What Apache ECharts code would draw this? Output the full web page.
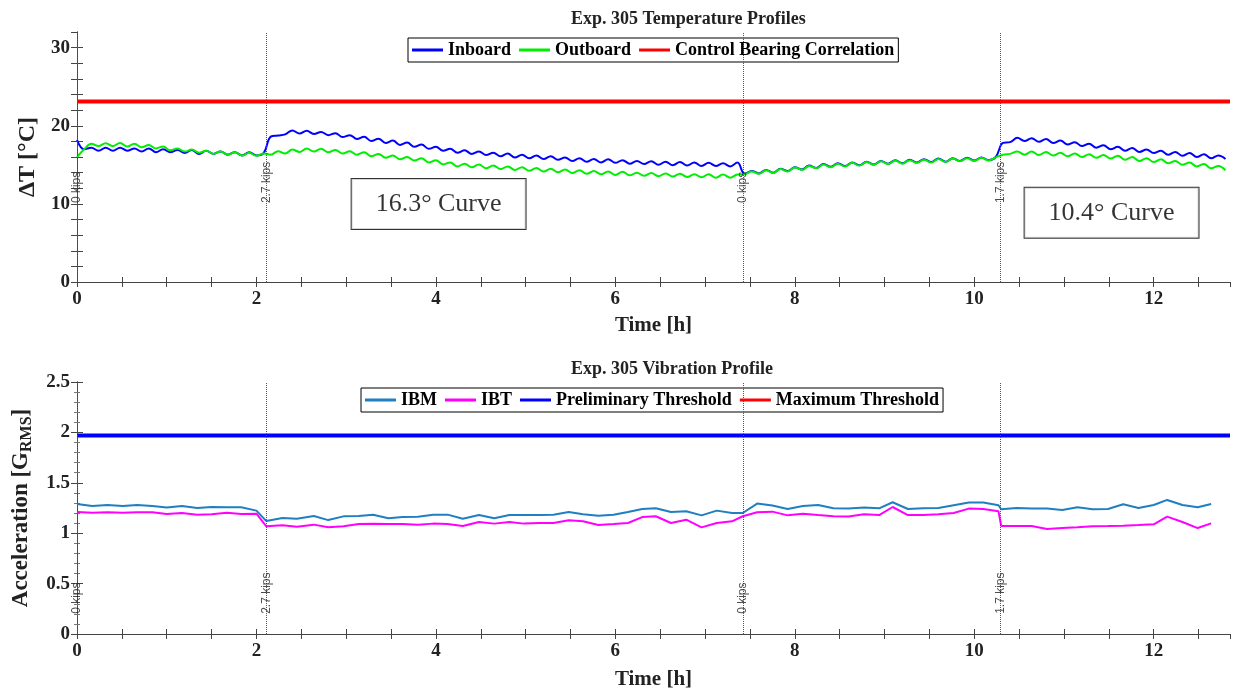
<!DOCTYPE html>
<html>
<head>
<meta charset="utf-8">
<script src="https://cdn.jsdelivr.net/npm/echarts@6/dist/echarts.min.js"></script>
<style>
html,body{margin:0;padding:0;background:#fff;}
#chart{width:1235px;height:694px;}
</style>
</head>
<body>
<div id="chart"></div>
<script>
// ---------- DATA ----------
const tempTime = [0,0.08,0.16,0.24,0.32,0.4,0.48,0.56,0.64,0.72,0.8,0.88,0.96,1.04,1.12,1.2,1.28,1.36,1.44,1.52,1.6,1.68,1.76,1.84,1.92,2.0,2.08,
2.16,2.24,2.32,2.4,2.48,2.56,2.64,2.72,2.8,2.88,2.96,3.04,3.12,3.2,3.28,3.36,3.44,3.52,3.6,3.68,3.76,3.84,3.92,4.0,4.08,4.16,4.24,4.32,4.4,4.48,4.56,4.64,4.72,4.8,4.88,4.96,5.04,5.12,
5.2,5.28,5.36,5.44,5.52,5.6,5.68,5.76,5.84,5.92,6.0,6.08,6.16,6.24,6.32,6.4,6.48,6.56,6.64,6.72,6.8,6.88,6.96,7.04,7.12,7.2,7.28,7.36,
7.44,7.52,7.6,7.68,7.76,7.84,7.92,8.0,8.08,8.16,8.24,8.32,8.4,8.48,8.56,8.64,8.72,8.8,8.88,8.96,9.04,9.12,9.2,9.28,9.36,9.44,9.52,9.6,9.68,9.76,9.84,9.92,10.0,10.08,10.16,10.24,
10.32,10.4,10.48,10.56,10.64,10.72,10.8,10.88,10.96,11.04,11.12,11.2,11.28,11.36,11.44,11.52,11.6,11.68,11.76,11.84,11.92,12.0,12.08,12.16,12.24,12.32,12.4,12.48,12.56,12.64,12.72,12.8];

const inboard = [18.2,17.0,17.2,16.8,17.2,16.8,17.2,16.8,17.1,16.7,17.1,16.6,17.0,16.6,16.9,16.5,16.9,16.4,16.8,16.4,16.7,16.3,16.6,16.2,16.6,16.2,16.5,
18.6,18.75,18.9,19.4,19.0,19.35,18.95,19.2,18.8,19.05,18.55,18.8,18.3,18.6,18.05,18.35,17.8,18.1,17.55,17.85,17.3,17.6,17.05,17.3,16.8,17.05,16.55,16.85,16.4,16.7,16.25,16.55,16.1,16.45,15.95,16.3,15.85,16.2,
15.75,16.1,15.65,15.95,15.5,15.85,15.4,15.75,15.3,15.7,15.25,15.6,15.15,15.5,15.1,15.45,15.0,15.4,14.95,15.35,14.9,15.3,14.85,15.25,14.85,15.2,14.8,15.3,
13.85,14.2,13.9,14.35,14.0,14.5,14.2,14.7,14.4,14.9,14.6,15.1,14.75,15.2,14.85,15.3,14.95,15.4,15.05,15.5,15.15,15.6,15.2,15.65,15.3,15.7,15.35,15.8,15.4,15.85,15.5,15.9,15.55,15.95,15.6,16.0,
17.8,17.9,18.45,18.05,18.4,17.95,18.3,17.8,18.1,17.6,17.9,17.4,17.7,17.2,17.5,17.0,17.3,16.8,17.15,16.65,16.95,16.5,16.8,16.3,16.65,16.15,16.5,16.0,16.35,15.85,16.2,15.75];

const outboard = [16.0,17.0,17.7,17.4,17.75,17.4,17.8,17.35,17.7,17.25,17.55,17.1,17.35,16.85,17.1,16.7,16.95,16.55,16.8,16.4,16.7,16.3,16.6,16.2,16.55,16.15,16.45,
16.3,16.75,16.45,16.95,16.65,17.1,16.7,17.05,16.6,16.9,16.45,16.75,16.3,16.6,16.1,16.4,15.9,16.2,15.7,16.0,15.55,15.85,15.3,15.6,15.05,15.3,14.8,15.15,14.7,15.05,14.55,14.9,14.45,14.8,14.35,14.7,14.25,14.6,
14.15,14.5,14.05,14.4,13.95,14.3,13.85,14.2,13.8,14.15,13.7,14.1,13.65,14.0,13.6,13.95,13.55,13.9,13.5,13.85,13.45,13.8,13.4,13.8,13.35,13.75,13.35,13.75,
13.8,14.15,13.85,14.3,13.95,14.45,14.15,14.65,14.35,14.85,14.55,15.05,14.7,15.15,14.8,15.25,14.9,15.35,15.0,15.45,15.1,15.55,15.15,15.6,15.25,15.65,15.3,15.75,15.35,15.8,15.45,15.85,15.5,15.9,15.55,15.95,
16.3,16.4,16.7,16.3,16.7,16.25,16.65,16.2,16.55,16.1,16.45,16.0,16.35,15.9,16.25,15.8,16.15,15.65,16.0,15.5,15.85,15.35,15.7,15.2,15.5,15.0,15.3,14.8,15.1,14.55,14.85,14.3];

const controlBearing = [23.1, 23.1];
const thresholdTime = [0, 12.85];

const vibTime = [0,0.17,0.34,0.51,0.67,0.84,1.0,1.17,1.34,1.5,1.67,1.83,2.0,
2.11,2.29,2.45,2.64,2.8,2.97,3.14,3.3,3.47,3.63,3.8,3.97,4.13,4.3,4.48,4.65,4.82,4.98,5.15,5.31,5.48,5.64,5.81,5.98,6.14,6.3,6.45,6.62,6.79,6.96,7.13,7.3,
7.42,7.58,7.75,7.92,8.09,8.26,8.43,8.6,8.77,8.94,9.09,9.26,9.43,9.6,9.77,9.94,10.1,10.27,
10.3,10.47,10.64,10.81,10.98,11.15,11.32,11.49,11.66,11.83,12.0,12.15,12.32,12.49,12.64];

const ibm = [1.29,1.27,1.28,1.27,1.28,1.27,1.255,1.27,1.25,1.26,1.257,1.257,1.224,
1.12,1.15,1.144,1.17,1.13,1.167,1.17,1.184,1.148,1.16,1.164,1.184,1.184,1.144,1.18,1.148,1.18,1.18,1.18,1.184,1.21,1.187,1.174,1.184,1.21,1.24,1.247,1.21,1.217,1.177,1.224,1.2,
1.2,1.294,1.274,1.24,1.27,1.28,1.247,1.244,1.254,1.247,1.307,1.24,1.247,1.25,1.277,1.304,1.304,1.277,
1.237,1.25,1.244,1.244,1.23,1.257,1.237,1.24,1.287,1.25,1.28,1.33,1.28,1.257,1.29];

const ibt = [1.21,1.204,1.207,1.204,1.207,1.207,1.19,1.2,1.184,1.187,1.204,1.19,1.194,
1.068,1.078,1.065,1.085,1.058,1.068,1.091,1.094,1.091,1.091,1.085,1.095,1.091,1.071,1.111,1.095,1.111,1.095,1.101,1.101,1.128,1.118,1.081,1.091,1.101,1.16,1.168,1.101,1.134,1.058,1.101,1.118,
1.168,1.207,1.214,1.177,1.194,1.18,1.168,1.165,1.187,1.18,1.26,1.18,1.18,1.187,1.2,1.244,1.24,1.217,
1.071,1.071,1.071,1.041,1.051,1.058,1.068,1.071,1.075,1.081,1.088,1.164,1.111,1.051,1.098];

const preliminaryThreshold = [1.97, 1.97];
const maximumThreshold = [];

const loadTimes = [0, 2.11, 7.415, 10.29];
const loadLabels = ['0 kips', '2.7 kips', '0 kips', '1.7 kips'];

const curveNotes = ['16.3° Curve', '10.4° Curve'];
const curveNoteX = [4.03, 11.53];
const curveNoteY = [10.0, 8.86];

const xTickLabels = [0, 2, 4, 6, 8, 10, 12];

// ---------- HELPERS ----------
const SERIF = 'Liberation Serif';
const zip = (xs, ys) => xs.map((x, i) => [x, ys[i]]);
const AX = '#444';
const XMAX = 12.85;

function xAxisMain(gridIndex, nameGap) {
  return {
    type: 'value', gridIndex, position: 'bottom', min: 0, max: XMAX, interval: 0.5,
    axisLine: { show: true, lineStyle: { color: AX, width: 1 } },
    axisTick: { show: true, inside: true, length: 5, lineStyle: { color: AX } },
    splitLine: { show: false },
    axisLabel: {
      showMaxLabel: false, margin: 8,
      formatter: v => xTickLabels.some(t => Math.abs(t - v) < 1e-6) ? String(v) : '',
      fontFamily: SERIF, fontWeight: 'bold', fontSize: 19, color: '#222'
    },
    name: 'Time [h]', nameLocation: 'middle', nameGap,
    nameTextStyle: { fontFamily: SERIF, fontWeight: 'bold', fontSize: 21, color: '#222' }
  };
}
function xAxisTop(gridIndex) {
  return {
    type: 'value', gridIndex, position: 'top', min: 0, max: XMAX, interval: 0.5,
    axisLine: { show: true, lineStyle: { color: AX, width: 1 } },
    axisTick: { show: true, inside: true, length: 5, lineStyle: { color: AX } },
    splitLine: { show: false }, axisLabel: { show: false }
  };
}
function yAxisRight(gridIndex, max, interval, minor) {
  return {
    type: 'value', gridIndex, position: 'right', min: 0, max, interval,
    axisLine: { show: true, lineStyle: { color: AX, width: 1 } },
    axisTick: { show: true, inside: true, length: 6, lineStyle: { color: AX } },
    minorTick: minor ? { show: true, splitNumber: 5, length: 3, lineStyle: { color: '#777' } } : { show: false },
    splitLine: { show: false }, axisLabel: { show: false }
  };
}

const legendCommon = {
  orient: 'horizontal', selectedMode: false,
  backgroundColor: '#fff', borderColor: '#000', borderWidth: 1,
  padding: [3, 4], itemGap: 8, itemWidth: 31, itemHeight: 3, icon: 'rect',
  textStyle: { fontFamily: SERIF, fontWeight: 'bold', fontSize: 18, color: '#000' }
};

const kipsLabelStyle = {
  show: true, formatter: '{b}', rotate: 90, position: 'inside',
  align: 'left', verticalAlign: 'middle',
  fontFamily: 'Liberation Sans', fontSize: 12, color: '#222'
};

const option = {
  animation: false,
  backgroundColor: '#fff',
  title: [
    { text: 'Exp. 305 Temperature Profiles', left: 566, top: 5,
      textStyle: { fontFamily: SERIF, fontWeight: 'bold', fontSize: 18, color: '#222' } },
    { text: 'Exp. 305 Vibration Profile', left: 566, top: 355,
      textStyle: { fontFamily: SERIF, fontWeight: 'bold', fontSize: 18, color: '#222' } }
  ],
  legend: [
    Object.assign({}, legendCommon, { left: 408, top: 38, data: ['Inboard', 'Outboard', 'Control Bearing Correlation'] }),
    Object.assign({}, legendCommon, { left: 361, top: 388, data: ['IBM', 'IBT', 'Preliminary Threshold', 'Maximum Threshold'] })
  ],
  grid: [
    { left: 77, right: 5, top: 32, height: 250, containLabel: false },
    { left: 77, right: 5, top: 382, height: 252, containLabel: false }
  ],
  xAxis: [ xAxisMain(0, 33), xAxisTop(0), xAxisMain(1, 35), xAxisTop(1) ],
  yAxis: [
    {
      type: 'value', gridIndex: 0, min: 0, max: 32, interval: 2,
      axisLine: { show: true, lineStyle: { color: AX, width: 1 } },
      axisTick: { show: true, inside: true, length: 6, lineStyle: { color: AX } },
      splitLine: { show: false },
      axisLabel: { showMaxLabel: false, margin: 7, formatter: v => (v % 10 === 0 ? String(v) : ''),
        fontFamily: SERIF, fontWeight: 'bold', fontSize: 19, color: '#222' },
      name: 'ΔT [°C]', nameLocation: 'middle', nameGap: 34,
      nameTextStyle: { fontFamily: SERIF, fontWeight: 'bold', fontSize: 24, color: '#222' }
    },
    yAxisRight(0, 32, 2, false),
    {
      type: 'value', gridIndex: 1, min: 0, max: 2.5, interval: 0.5,
      axisLine: { show: true, lineStyle: { color: AX, width: 1 } },
      axisTick: { show: true, inside: true, length: 6, lineStyle: { color: AX } },
      minorTick: { show: true, splitNumber: 5, length: 3, lineStyle: { color: '#777' } },
      splitLine: { show: false },
      axisLabel: { margin: 7, fontFamily: SERIF, fontWeight: 'bold', fontSize: 19, color: '#222' },
      name: '{a|Acceleration [G}{s|RMS}{a|]}', nameLocation: 'middle', nameGap: 36,
      nameTextStyle: {
        rich: {
          a: { fontFamily: SERIF, fontWeight: 'bold', fontSize: 23, color: '#222', lineHeight: 28, verticalAlign: 'middle' },
          s: { fontFamily: SERIF, fontWeight: 'bold', fontSize: 16, color: '#222', lineHeight: 16, verticalAlign: 'bottom' }
        }
      }
    },
    yAxisRight(1, 2.5, 0.5, true)
  ],
  series: [
    {
      name: 'Inboard', type: 'line', xAxisIndex: 0, yAxisIndex: 0,
      data: zip(tempTime, inboard), showSymbol: false, smooth: 0.4,
      color: '#0000ff', lineStyle: { color: '#0000ff', width: 2 },
      markLine: {
        silent: true, symbol: ['none', 'none'], label: { show: false },
        lineStyle: { type: 'dotted', color: '#555', width: 1 },
        data: loadTimes.map(t => ({ xAxis: t }))
      }
    },
    {
      name: 'Outboard', type: 'line', xAxisIndex: 0, yAxisIndex: 0,
      data: zip(tempTime, outboard), showSymbol: false, smooth: 0.4,
      color: '#00ee00', lineStyle: { color: '#00ee00', width: 2 }
    },
    {
      name: 'Control Bearing Correlation', type: 'line', xAxisIndex: 0, yAxisIndex: 0,
      data: zip(thresholdTime, controlBearing), showSymbol: false,
      color: '#ff0000', lineStyle: { color: '#ff0000', width: 4 }
    },
    {
      name: 'kips0', type: 'scatter', xAxisIndex: 0, yAxisIndex: 0, silent: true,
      symbolSize: 0, data: loadTimes.map((t, i) => ({ name: loadLabels[i], value: [t, 10.1] })),
      label: kipsLabelStyle, z: 5
    },
    {
      name: 'notes', type: 'scatter', xAxisIndex: 0, yAxisIndex: 0, silent: true,
      symbolSize: 0, data: curveNotes.map((s, i) => ({ name: s, value: [curveNoteX[i], curveNoteY[i]] })),
      label: {
        show: true, formatter: '{b}', position: 'inside', align: 'center', verticalAlign: 'middle',
        fontFamily: SERIF, fontSize: 26, color: '#000', lineHeight: 30,
        backgroundColor: '#fff', borderColor: '#000', borderWidth: 1, padding: [10, 24]
      }, z: 6
    },
    {
      name: 'IBM', type: 'line', xAxisIndex: 2, yAxisIndex: 2,
      data: zip(vibTime, ibm), showSymbol: false,
      color: '#1f7fc0', lineStyle: { color: '#1f7fc0', width: 2 },
      markLine: {
        silent: true, symbol: ['none', 'none'], label: { show: false },
        lineStyle: { type: 'dotted', color: '#555', width: 1 },
        data: loadTimes.map(t => ({ xAxis: t }))
      }
    },
    {
      name: 'IBT', type: 'line', xAxisIndex: 2, yAxisIndex: 2,
      data: zip(vibTime, ibt), showSymbol: false,
      color: '#ff00ff', lineStyle: { color: '#ff00ff', width: 2 }
    },
    {
      name: 'Preliminary Threshold', type: 'line', xAxisIndex: 2, yAxisIndex: 2,
      data: zip(thresholdTime, preliminaryThreshold), showSymbol: false,
      color: '#0000ff', lineStyle: { color: '#0000ff', width: 4 }
    },
    {
      name: 'Maximum Threshold', type: 'line', xAxisIndex: 2, yAxisIndex: 2,
      data: maximumThreshold, showSymbol: false,
      color: '#ff0000', lineStyle: { color: '#ff0000', width: 4 }
    },
    {
      name: 'kips1', type: 'scatter', xAxisIndex: 2, yAxisIndex: 2, silent: true,
      symbolSize: 0, data: loadTimes.map((t, i) => ({ name: loadLabels[i], value: [t, 0.2] })),
      label: kipsLabelStyle, z: 5
    }
  ]
};

const chart = echarts.init(document.getElementById('chart'), null, { renderer: 'canvas' });
chart.setOption(option);
</script>
</body>
</html>
